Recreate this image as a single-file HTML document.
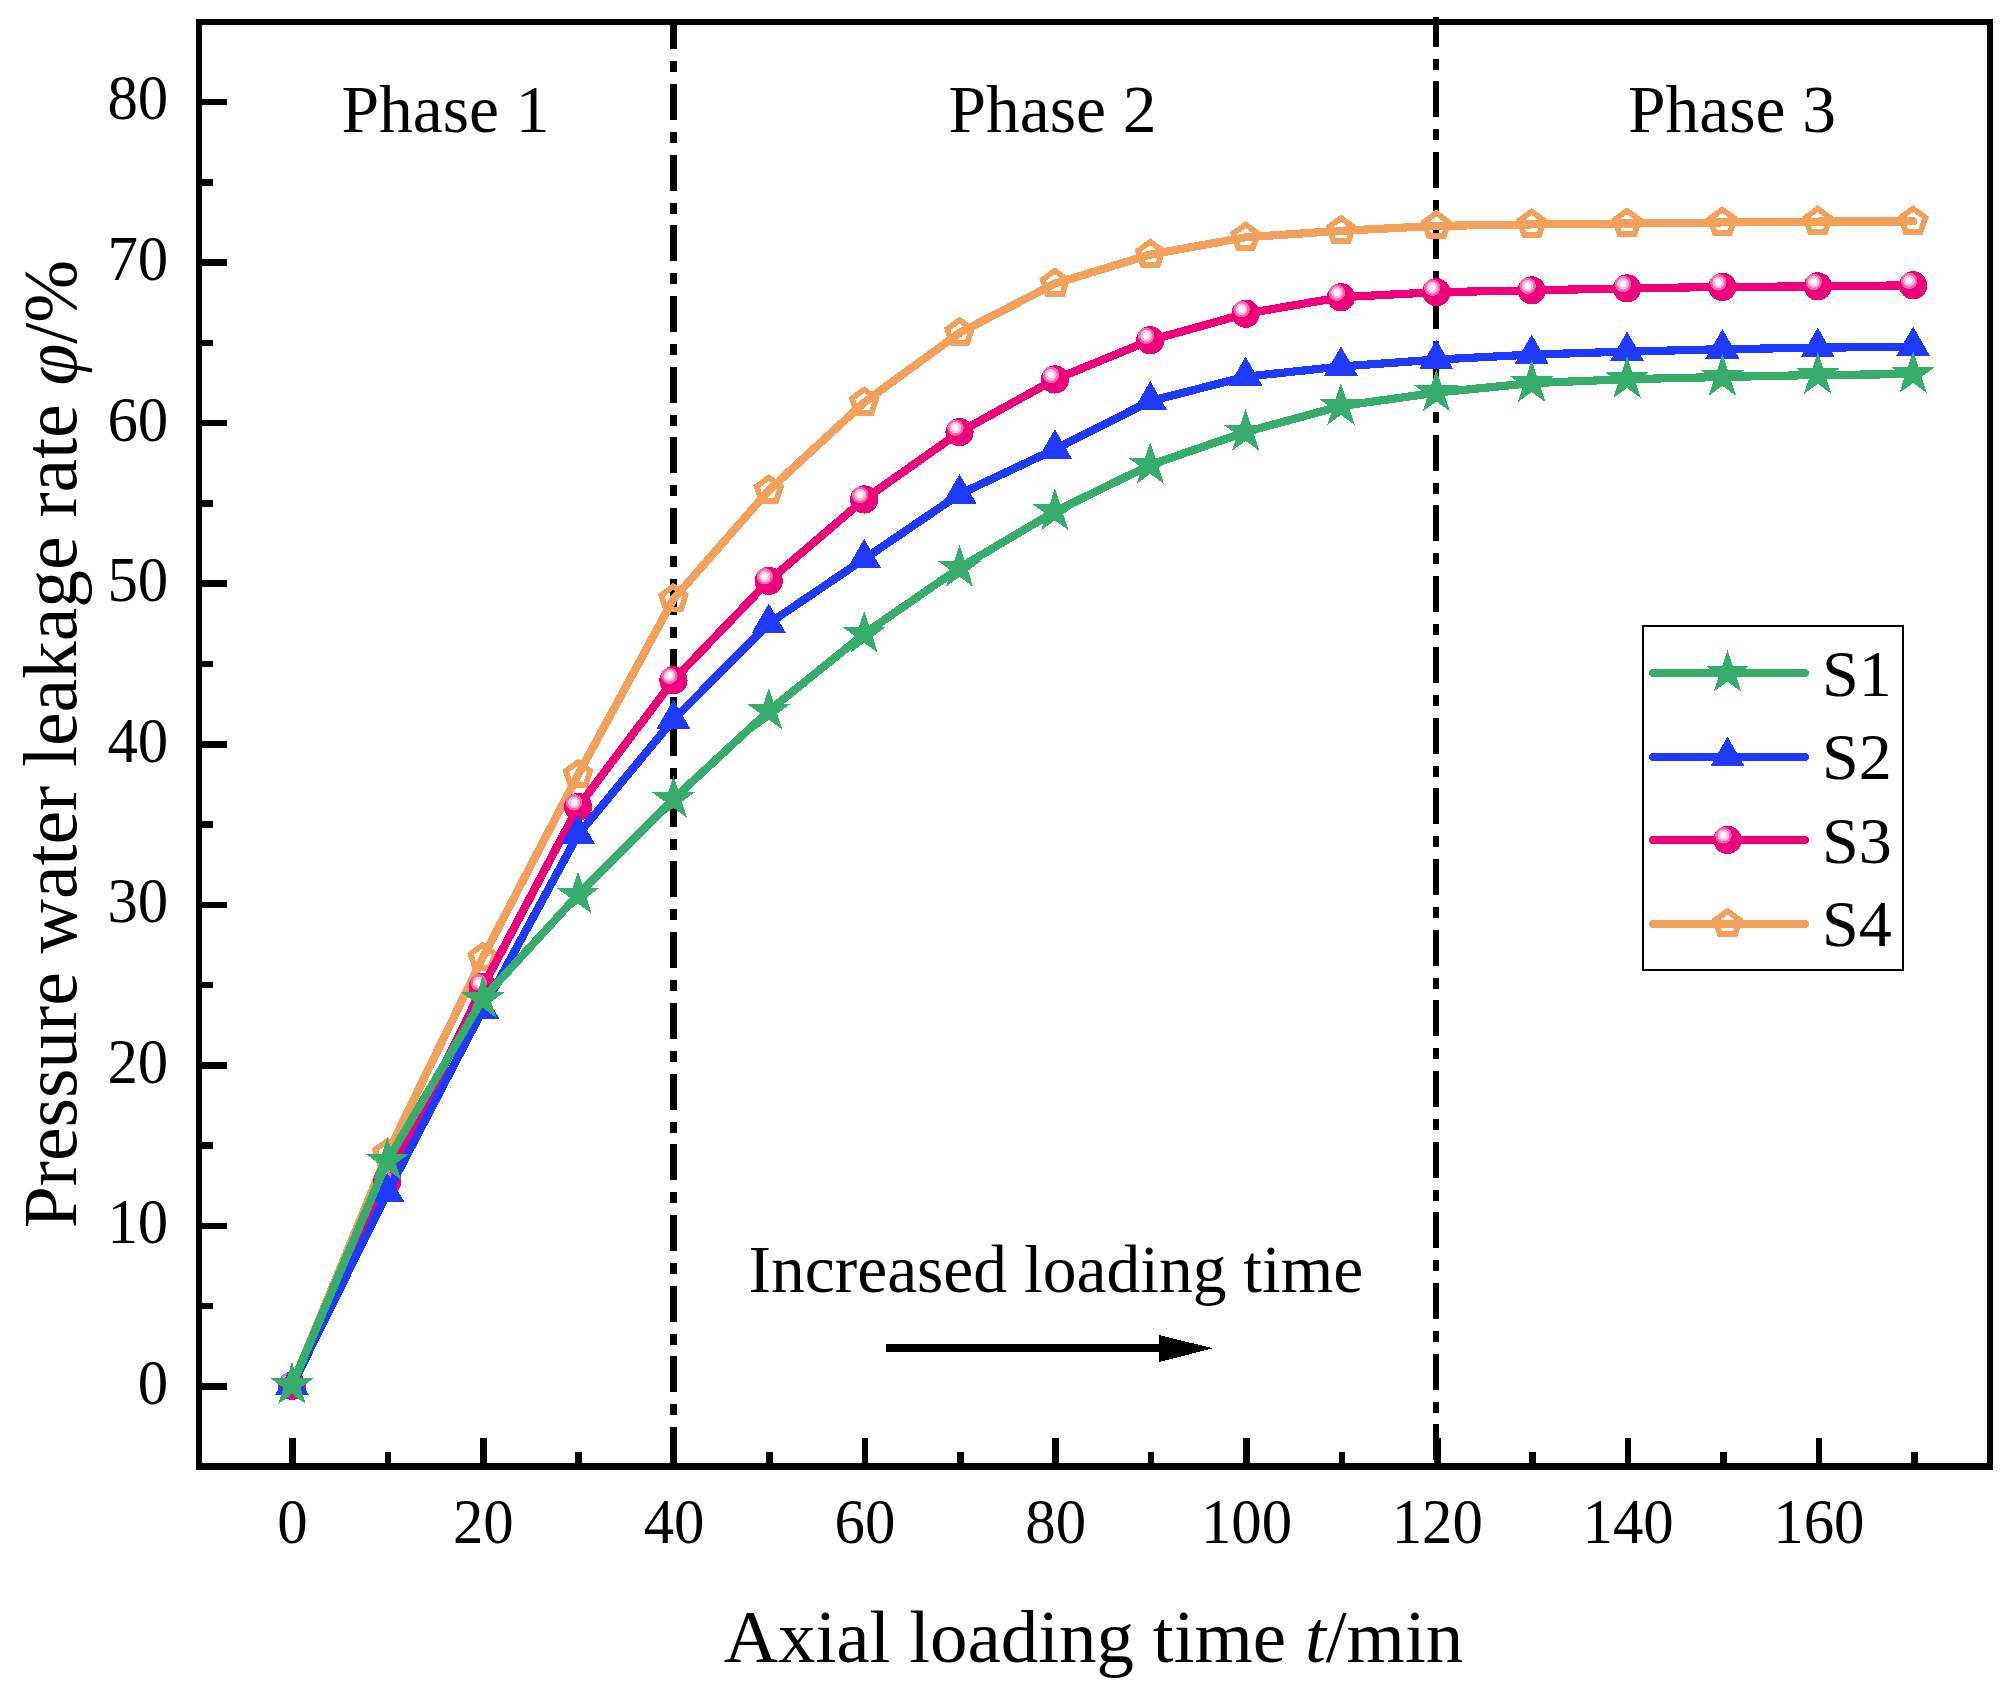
<!DOCTYPE html><html><head><meta charset="utf-8"><title>Pressure water leakage rate</title><style>html,body{margin:0;padding:0;background:#fff}svg{display:block}text{font-family:"Liberation Serif","Times New Roman",serif;fill:#000}</style></head><body>
<svg width="2016" height="1689" viewBox="0 0 2016 1689">
<defs><radialGradient id="hl"><stop offset="0" stop-color="#fffafd"/><stop offset="0.38" stop-color="#fffafd"/><stop offset="0.43" stop-color="#fcbcdc"/><stop offset="0.67" stop-color="#fcbcdc"/><stop offset="0.72" stop-color="#f566b2"/><stop offset="0.97" stop-color="#f566b2"/><stop offset="1" stop-color="#f566b2" stop-opacity="0"/></radialGradient></defs>
<rect width="2016" height="1689" fill="#fff"/>
<g stroke="#000" stroke-width="7" fill="none" stroke-dasharray="36 12 11 11.68" shape-rendering="crispEdges">
<line x1="673.5" y1="22" x2="673.5" y2="1466" stroke-dashoffset="8.7"/>
<line x1="1436.1" y1="17" x2="1436.1" y2="1466" stroke-dashoffset="6.3" stroke-width="6"/>
</g>
<path d="M196 19H1993V1470H196Z M202 25V1463H1987V25Z" fill="#000" fill-rule="evenodd"/>
<g stroke="#000" stroke-width="6.5" shape-rendering="crispEdges"><line x1="200" y1="1386.5" x2="227" y2="1386.5"/><line x1="200" y1="1225.94" x2="227" y2="1225.94"/><line x1="200" y1="1065.38" x2="227" y2="1065.38"/><line x1="200" y1="904.82" x2="227" y2="904.82"/><line x1="200" y1="744.26" x2="227" y2="744.26"/><line x1="200" y1="583.7" x2="227" y2="583.7"/><line x1="200" y1="423.14" x2="227" y2="423.14"/><line x1="200" y1="262.58" x2="227" y2="262.58"/><line x1="200" y1="102.02" x2="227" y2="102.02"/><line x1="200" y1="1306.22" x2="213" y2="1306.22"/><line x1="200" y1="1145.66" x2="213" y2="1145.66"/><line x1="200" y1="985.1" x2="213" y2="985.1"/><line x1="200" y1="824.54" x2="213" y2="824.54"/><line x1="200" y1="663.98" x2="213" y2="663.98"/><line x1="200" y1="503.42" x2="213" y2="503.42"/><line x1="200" y1="342.86" x2="213" y2="342.86"/><line x1="200" y1="182.3" x2="213" y2="182.3"/><line x1="292.5" y1="1438" x2="292.5" y2="1465"/><line x1="483.3" y1="1438" x2="483.3" y2="1465"/><line x1="674.1" y1="1438" x2="674.1" y2="1465"/><line x1="864.9" y1="1438" x2="864.9" y2="1465"/><line x1="1055.7" y1="1438" x2="1055.7" y2="1465"/><line x1="1246.5" y1="1438" x2="1246.5" y2="1465"/><line x1="1437.3" y1="1438" x2="1437.3" y2="1465"/><line x1="1628.1" y1="1438" x2="1628.1" y2="1465"/><line x1="1818.9" y1="1438" x2="1818.9" y2="1465"/><line x1="387.9" y1="1452" x2="387.9" y2="1465"/><line x1="578.7" y1="1452" x2="578.7" y2="1465"/><line x1="769.5" y1="1452" x2="769.5" y2="1465"/><line x1="960.3" y1="1452" x2="960.3" y2="1465"/><line x1="1151.1" y1="1452" x2="1151.1" y2="1465"/><line x1="1341.9" y1="1452" x2="1341.9" y2="1465"/><line x1="1532.7" y1="1452" x2="1532.7" y2="1465"/><line x1="1723.5" y1="1452" x2="1723.5" y2="1465"/><line x1="1914.3" y1="1452" x2="1914.3" y2="1465"/></g>
<g font-size="62.4">
<text transform="translate(168.2,1403.9) scale(0.975,1)" text-anchor="end">0</text>
<text transform="translate(168.2,1243.34) scale(0.975,1)" text-anchor="end">10</text>
<text transform="translate(168.2,1082.78) scale(0.975,1)" text-anchor="end">20</text>
<text transform="translate(168.2,922.22) scale(0.975,1)" text-anchor="end">30</text>
<text transform="translate(168.2,761.66) scale(0.975,1)" text-anchor="end">40</text>
<text transform="translate(168.2,601.1) scale(0.975,1)" text-anchor="end">50</text>
<text transform="translate(168.2,440.54) scale(0.975,1)" text-anchor="end">60</text>
<text transform="translate(168.2,279.98) scale(0.975,1)" text-anchor="end">70</text>
<text transform="translate(168.2,119.42) scale(0.975,1)" text-anchor="end">80</text>
<text transform="translate(292.5,1543.3) scale(0.975,1)" text-anchor="middle">0</text>
<text transform="translate(483.3,1543.3) scale(0.975,1)" text-anchor="middle">20</text>
<text transform="translate(674.1,1543.3) scale(0.975,1)" text-anchor="middle">40</text>
<text transform="translate(864.9,1543.3) scale(0.975,1)" text-anchor="middle">60</text>
<text transform="translate(1055.7,1543.3) scale(0.975,1)" text-anchor="middle">80</text>
<text transform="translate(1246.5,1543.3) scale(0.975,1)" text-anchor="middle">100</text>
<text transform="translate(1437.3,1543.3) scale(0.975,1)" text-anchor="middle">120</text>
<text transform="translate(1628.1,1543.3) scale(0.975,1)" text-anchor="middle">140</text>
<text transform="translate(1818.9,1543.3) scale(0.975,1)" text-anchor="middle">160</text>
</g>
<text x="1093.5" y="1662" font-size="75" text-anchor="middle">Axial loading time <tspan font-style="italic">t</tspan>/min</text>
<text transform="translate(75.5,744) rotate(-90)" font-size="75.5" text-anchor="middle">Pressure water leakage rate <tspan font-style="italic">φ</tspan>/%</text>
<g font-size="67.5">
<text x="341.5" y="131.7">Phase 1</text>
<text x="948.5" y="131.7">Phase 2</text>
<text x="1628" y="131.7">Phase 3</text>
<text x="748.5" y="1291.7">Increased loading time</text>
</g>
<g shape-rendering="crispEdges"><line x1="886" y1="1348" x2="1162" y2="1348" stroke="#000" stroke-width="8"/><polygon points="1159,1335 1213,1348.3 1159,1362" fill="#000"/></g>
<g shape-rendering="crispEdges">
<polyline points="292,1385.5 387.36,1153.6 482.72,957.8 578.08,774.8 673.44,599.1 768.8,490.4 864.16,402.4 959.52,332.9 1054.88,283.6 1150.24,254.6 1245.6,237.3 1340.96,230.8 1436.32,225.9 1531.68,224.4 1627.04,223.5 1722.4,222.4 1817.76,221.6 1913.12,221.4" fill="none" stroke="#F3A05A" stroke-width="8.2" stroke-linecap="round" stroke-linejoin="round"/>
<polygon points="292,1372.7 304.17,1381.54 299.52,1395.86 284.48,1395.86 279.83,1381.54" fill="none" stroke="#F3A05A" stroke-width="5.7" stroke-linejoin="miter"/><polygon points="387.36,1140.8 399.53,1149.64 394.88,1163.96 379.84,1163.96 375.19,1149.64" fill="none" stroke="#F3A05A" stroke-width="5.7" stroke-linejoin="miter"/><polygon points="482.72,945 494.89,953.84 490.24,968.16 475.2,968.16 470.55,953.84" fill="none" stroke="#F3A05A" stroke-width="5.7" stroke-linejoin="miter"/><polygon points="578.08,762 590.25,770.84 585.6,785.16 570.56,785.16 565.91,770.84" fill="none" stroke="#F3A05A" stroke-width="5.7" stroke-linejoin="miter"/><polygon points="673.44,586.3 685.61,595.14 680.96,609.46 665.92,609.46 661.27,595.14" fill="none" stroke="#F3A05A" stroke-width="5.7" stroke-linejoin="miter"/><polygon points="768.8,477.6 780.97,486.44 776.32,500.76 761.28,500.76 756.63,486.44" fill="none" stroke="#F3A05A" stroke-width="5.7" stroke-linejoin="miter"/><polygon points="864.16,389.6 876.33,398.44 871.68,412.76 856.64,412.76 851.99,398.44" fill="none" stroke="#F3A05A" stroke-width="5.7" stroke-linejoin="miter"/><polygon points="959.52,320.1 971.69,328.94 967.04,343.26 952,343.26 947.35,328.94" fill="none" stroke="#F3A05A" stroke-width="5.7" stroke-linejoin="miter"/><polygon points="1054.88,270.8 1067.05,279.64 1062.4,293.96 1047.36,293.96 1042.71,279.64" fill="none" stroke="#F3A05A" stroke-width="5.7" stroke-linejoin="miter"/><polygon points="1150.24,241.8 1162.41,250.64 1157.76,264.96 1142.72,264.96 1138.07,250.64" fill="none" stroke="#F3A05A" stroke-width="5.7" stroke-linejoin="miter"/><polygon points="1245.6,224.5 1257.77,233.34 1253.12,247.66 1238.08,247.66 1233.43,233.34" fill="none" stroke="#F3A05A" stroke-width="5.7" stroke-linejoin="miter"/><polygon points="1340.96,218 1353.13,226.84 1348.48,241.16 1333.44,241.16 1328.79,226.84" fill="none" stroke="#F3A05A" stroke-width="5.7" stroke-linejoin="miter"/><polygon points="1436.32,213.1 1448.49,221.94 1443.84,236.26 1428.8,236.26 1424.15,221.94" fill="none" stroke="#F3A05A" stroke-width="5.7" stroke-linejoin="miter"/><polygon points="1531.68,211.6 1543.85,220.44 1539.2,234.76 1524.16,234.76 1519.51,220.44" fill="none" stroke="#F3A05A" stroke-width="5.7" stroke-linejoin="miter"/><polygon points="1627.04,210.7 1639.21,219.54 1634.56,233.86 1619.52,233.86 1614.87,219.54" fill="none" stroke="#F3A05A" stroke-width="5.7" stroke-linejoin="miter"/><polygon points="1722.4,209.6 1734.57,218.44 1729.92,232.76 1714.88,232.76 1710.23,218.44" fill="none" stroke="#F3A05A" stroke-width="5.7" stroke-linejoin="miter"/><polygon points="1817.76,208.8 1829.93,217.64 1825.28,231.96 1810.24,231.96 1805.59,217.64" fill="none" stroke="#F3A05A" stroke-width="5.7" stroke-linejoin="miter"/><polygon points="1913.12,208.6 1925.29,217.44 1920.64,231.76 1905.6,231.76 1900.95,217.44" fill="none" stroke="#F3A05A" stroke-width="5.7" stroke-linejoin="miter"/>
<polyline points="292,1385.7 387.36,1181 482.72,986.9 578.08,806.9 673.44,680.3 768.8,580.85 864.16,499.45 959.52,432.2 1054.88,379.45 1150.24,340.3 1245.6,313.7 1340.96,297.2 1436.32,292.2 1531.68,290.35 1627.04,288.4 1722.4,286.9 1817.76,286.4 1913.12,285.3" fill="none" stroke="#ED0079" stroke-width="8.2" stroke-linecap="round" stroke-linejoin="round"/>
<circle cx="292" cy="1385.7" r="14.1" fill="#ED0079"/><circle cx="287.95" cy="1381.15" r="8.3" fill="url(#hl)"/><circle cx="387.36" cy="1181" r="14.1" fill="#ED0079"/><circle cx="383.31" cy="1176.45" r="8.3" fill="url(#hl)"/><circle cx="482.72" cy="986.9" r="14.1" fill="#ED0079"/><circle cx="478.67" cy="982.35" r="8.3" fill="url(#hl)"/><circle cx="578.08" cy="806.9" r="14.1" fill="#ED0079"/><circle cx="574.03" cy="802.35" r="8.3" fill="url(#hl)"/><circle cx="673.44" cy="680.3" r="14.1" fill="#ED0079"/><circle cx="669.39" cy="675.75" r="8.3" fill="url(#hl)"/><circle cx="768.8" cy="580.85" r="14.1" fill="#ED0079"/><circle cx="764.75" cy="576.3" r="8.3" fill="url(#hl)"/><circle cx="864.16" cy="499.45" r="14.1" fill="#ED0079"/><circle cx="860.11" cy="494.9" r="8.3" fill="url(#hl)"/><circle cx="959.52" cy="432.2" r="14.1" fill="#ED0079"/><circle cx="955.47" cy="427.65" r="8.3" fill="url(#hl)"/><circle cx="1054.88" cy="379.45" r="14.1" fill="#ED0079"/><circle cx="1050.83" cy="374.9" r="8.3" fill="url(#hl)"/><circle cx="1150.24" cy="340.3" r="14.1" fill="#ED0079"/><circle cx="1146.19" cy="335.75" r="8.3" fill="url(#hl)"/><circle cx="1245.6" cy="313.7" r="14.1" fill="#ED0079"/><circle cx="1241.55" cy="309.15" r="8.3" fill="url(#hl)"/><circle cx="1340.96" cy="297.2" r="14.1" fill="#ED0079"/><circle cx="1336.91" cy="292.65" r="8.3" fill="url(#hl)"/><circle cx="1436.32" cy="292.2" r="14.1" fill="#ED0079"/><circle cx="1432.27" cy="287.65" r="8.3" fill="url(#hl)"/><circle cx="1531.68" cy="290.35" r="14.1" fill="#ED0079"/><circle cx="1527.63" cy="285.8" r="8.3" fill="url(#hl)"/><circle cx="1627.04" cy="288.4" r="14.1" fill="#ED0079"/><circle cx="1622.99" cy="283.85" r="8.3" fill="url(#hl)"/><circle cx="1722.4" cy="286.9" r="14.1" fill="#ED0079"/><circle cx="1718.35" cy="282.35" r="8.3" fill="url(#hl)"/><circle cx="1817.76" cy="286.4" r="14.1" fill="#ED0079"/><circle cx="1813.71" cy="281.85" r="8.3" fill="url(#hl)"/><circle cx="1913.12" cy="285.3" r="14.1" fill="#ED0079"/><circle cx="1909.07" cy="280.75" r="8.3" fill="url(#hl)"/>
<polyline points="292,1385.8 387.36,1192.6 482.72,1009.9 578.08,834.6 673.44,719.6 768.8,623.5 864.16,559 959.52,494.2 1054.88,449.3 1150.24,401.1 1245.6,376.7 1340.96,366.5 1436.32,359.6 1531.68,354.6 1627.04,351.6 1722.4,349.2 1817.76,347.7 1913.12,346.7" fill="none" stroke="#1E3AFF" stroke-width="8.2" stroke-linecap="round" stroke-linejoin="round"/>
<polygon points="292,1365.7 308.97,1395.1 275.03,1395.1" fill="#1E3AFF"/><polygon points="387.36,1172.5 404.33,1201.9 370.39,1201.9" fill="#1E3AFF"/><polygon points="482.72,989.8 499.69,1019.2 465.75,1019.2" fill="#1E3AFF"/><polygon points="578.08,814.5 595.05,843.9 561.11,843.9" fill="#1E3AFF"/><polygon points="673.44,699.5 690.41,728.9 656.47,728.9" fill="#1E3AFF"/><polygon points="768.8,603.4 785.77,632.8 751.83,632.8" fill="#1E3AFF"/><polygon points="864.16,538.9 881.13,568.3 847.19,568.3" fill="#1E3AFF"/><polygon points="959.52,474.1 976.49,503.5 942.55,503.5" fill="#1E3AFF"/><polygon points="1054.88,429.2 1071.85,458.6 1037.91,458.6" fill="#1E3AFF"/><polygon points="1150.24,381 1167.21,410.4 1133.27,410.4" fill="#1E3AFF"/><polygon points="1245.6,356.6 1262.57,386 1228.63,386" fill="#1E3AFF"/><polygon points="1340.96,346.4 1357.93,375.8 1323.99,375.8" fill="#1E3AFF"/><polygon points="1436.32,339.5 1453.29,368.9 1419.35,368.9" fill="#1E3AFF"/><polygon points="1531.68,334.5 1548.65,363.9 1514.71,363.9" fill="#1E3AFF"/><polygon points="1627.04,331.5 1644.01,360.9 1610.07,360.9" fill="#1E3AFF"/><polygon points="1722.4,329.1 1739.37,358.5 1705.43,358.5" fill="#1E3AFF"/><polygon points="1817.76,327.6 1834.73,357 1800.79,357" fill="#1E3AFF"/><polygon points="1913.12,326.6 1930.09,356 1896.15,356" fill="#1E3AFF"/>
<polyline points="292,1385.2 387.36,1160.8 482.72,999 578.08,894.7 673.44,799 768.8,710.9 864.16,633.9 959.52,567.9 1054.88,511.5 1150.24,465 1245.6,432 1340.96,406.1 1436.32,392.6 1531.68,383.1 1627.04,379.2 1722.4,377 1817.76,375 1913.12,374.1" fill="none" stroke="#37AD6B" stroke-width="8.2" stroke-linecap="round" stroke-linejoin="round"/>
<polygon points="292,1361.9 297.23,1378 314.16,1378 300.46,1387.95 305.7,1404.05 292,1394.1 278.3,1404.05 283.54,1387.95 269.84,1378 286.77,1378" fill="#37AD6B"/><polygon points="387.36,1137.5 392.59,1153.6 409.52,1153.6 395.82,1163.55 401.06,1179.65 387.36,1169.7 373.66,1179.65 378.9,1163.55 365.2,1153.6 382.13,1153.6" fill="#37AD6B"/><polygon points="482.72,975.7 487.95,991.8 504.88,991.8 491.18,1001.75 496.42,1017.85 482.72,1007.9 469.02,1017.85 474.26,1001.75 460.56,991.8 477.49,991.8" fill="#37AD6B"/><polygon points="578.08,871.4 583.31,887.5 600.24,887.5 586.54,897.45 591.78,913.55 578.08,903.6 564.38,913.55 569.62,897.45 555.92,887.5 572.85,887.5" fill="#37AD6B"/><polygon points="673.44,775.7 678.67,791.8 695.6,791.8 681.9,801.75 687.14,817.85 673.44,807.9 659.74,817.85 664.98,801.75 651.28,791.8 668.21,791.8" fill="#37AD6B"/><polygon points="768.8,687.6 774.03,703.7 790.96,703.7 777.26,713.65 782.5,729.75 768.8,719.8 755.1,729.75 760.34,713.65 746.64,703.7 763.57,703.7" fill="#37AD6B"/><polygon points="864.16,610.6 869.39,626.7 886.32,626.7 872.62,636.65 877.86,652.75 864.16,642.8 850.46,652.75 855.7,636.65 842,626.7 858.93,626.7" fill="#37AD6B"/><polygon points="959.52,544.6 964.75,560.7 981.68,560.7 967.98,570.65 973.22,586.75 959.52,576.8 945.82,586.75 951.06,570.65 937.36,560.7 954.29,560.7" fill="#37AD6B"/><polygon points="1054.88,488.2 1060.11,504.3 1077.04,504.3 1063.34,514.25 1068.58,530.35 1054.88,520.4 1041.18,530.35 1046.42,514.25 1032.72,504.3 1049.65,504.3" fill="#37AD6B"/><polygon points="1150.24,441.7 1155.47,457.8 1172.4,457.8 1158.7,467.75 1163.94,483.85 1150.24,473.9 1136.54,483.85 1141.78,467.75 1128.08,457.8 1145.01,457.8" fill="#37AD6B"/><polygon points="1245.6,408.7 1250.83,424.8 1267.76,424.8 1254.06,434.75 1259.3,450.85 1245.6,440.9 1231.9,450.85 1237.14,434.75 1223.44,424.8 1240.37,424.8" fill="#37AD6B"/><polygon points="1340.96,382.8 1346.19,398.9 1363.12,398.9 1349.42,408.85 1354.66,424.95 1340.96,415 1327.26,424.95 1332.5,408.85 1318.8,398.9 1335.73,398.9" fill="#37AD6B"/><polygon points="1436.32,369.3 1441.55,385.4 1458.48,385.4 1444.78,395.35 1450.02,411.45 1436.32,401.5 1422.62,411.45 1427.86,395.35 1414.16,385.4 1431.09,385.4" fill="#37AD6B"/><polygon points="1531.68,359.8 1536.91,375.9 1553.84,375.9 1540.14,385.85 1545.38,401.95 1531.68,392 1517.98,401.95 1523.22,385.85 1509.52,375.9 1526.45,375.9" fill="#37AD6B"/><polygon points="1627.04,355.9 1632.27,372 1649.2,372 1635.5,381.95 1640.74,398.05 1627.04,388.1 1613.34,398.05 1618.58,381.95 1604.88,372 1621.81,372" fill="#37AD6B"/><polygon points="1722.4,353.7 1727.63,369.8 1744.56,369.8 1730.86,379.75 1736.1,395.85 1722.4,385.9 1708.7,395.85 1713.94,379.75 1700.24,369.8 1717.17,369.8" fill="#37AD6B"/><polygon points="1817.76,351.7 1822.99,367.8 1839.92,367.8 1826.22,377.75 1831.46,393.85 1817.76,383.9 1804.06,393.85 1809.3,377.75 1795.6,367.8 1812.53,367.8" fill="#37AD6B"/><polygon points="1913.12,350.8 1918.35,366.9 1935.28,366.9 1921.58,376.85 1926.82,392.95 1913.12,383 1899.42,392.95 1904.66,376.85 1890.96,366.9 1907.89,366.9" fill="#37AD6B"/>
</g>
<g shape-rendering="crispEdges">
<rect x="1643" y="625.7" width="260" height="344.6" fill="#fff" stroke="#000" stroke-width="2.3"/>
<line x1="1653" y1="673" x2="1804.7" y2="673" stroke="#37AD6B" stroke-width="8.2" stroke-linecap="round"/><polygon points="1727.5,649.5 1732.73,665.6 1749.66,665.6 1735.96,675.55 1741.2,691.65 1727.5,681.7 1713.8,691.65 1719.04,675.55 1705.34,665.6 1722.27,665.6" fill="#37AD6B"/>
<line x1="1653" y1="757" x2="1804.7" y2="757" stroke="#1E3AFF" stroke-width="8.2" stroke-linecap="round"/><polygon points="1727.5,736.7 1744.47,766.1 1710.53,766.1" fill="#1E3AFF"/>
<line x1="1653" y1="840" x2="1804.7" y2="840" stroke="#ED0079" stroke-width="8.2" stroke-linecap="round"/><circle cx="1727.5" cy="839.9" r="14.1" fill="#ED0079"/><circle cx="1723.45" cy="835.35" r="8.3" fill="url(#hl)"/>
<line x1="1653" y1="924" x2="1804.7" y2="924" stroke="#F3A05A" stroke-width="8.2" stroke-linecap="round"/><polygon points="1727.5,911.1 1739.67,919.94 1735.02,934.26 1719.98,934.26 1715.33,919.94" fill="none" stroke="#F3A05A" stroke-width="5.7" stroke-linejoin="miter"/>
</g>
<g font-size="66">
<text x="1822" y="695.9">S1</text>
<text x="1822" y="778.8">S2</text>
<text x="1822" y="862.8">S3</text>
<text x="1822" y="946.2">S4</text>
</g>
</svg></body></html>
